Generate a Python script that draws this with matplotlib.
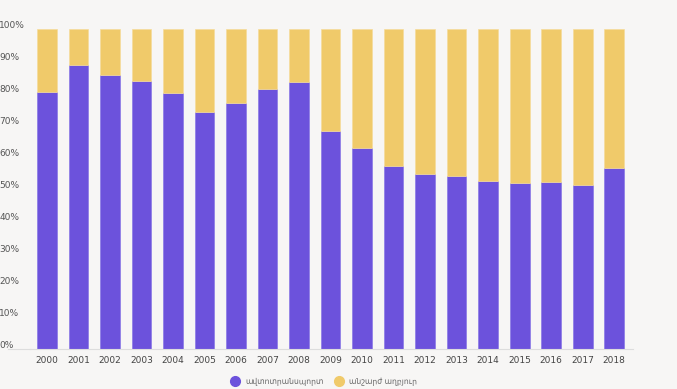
import matplotlib
matplotlib.use('Agg')
import matplotlib.pyplot as plt
import matplotlib.transforms as mtransforms
from matplotlib.lines import Line2D

plt.rcParams['font.family'] = ['DejaVu Sans', 'Noto Sans']

years = [str(y) for y in range(2000, 2019)]
transport = [80.4, 88.75, 85.7, 83.8, 80.1, 74.2, 77.0, 81.25, 83.3, 68.1,
             62.8, 57.3, 54.6, 54.0, 52.5, 52.0, 52.3, 51.25, 56.5]
stationary = [100 - v for v in transport]
labels = ['ավտոտրանսպորտ', 'անշարժ աղբյուր']
colors = ['#6c52dc', '#f0ca6a']

W, H = 677, 389
fig = plt.figure(figsize=(W / 100, H / 100), dpi=100, facecolor='#f7f6f5')
ax = fig.add_axes([30 / W, 1 - 349 / H, 603 / W, 320 / H])
ax.set_facecolor('none')

x = range(len(years))
ax.bar(x, transport, width=0.63, color=colors[0], edgecolor='#8a78e6', linewidth=0.5)
ax.bar(x, stationary, bottom=transport, width=0.63, color=colors[1],
       edgecolor='#f5dc9c', linewidth=0.5)

ax.set_xlim(-0.54, 18.6)
ax.set_ylim(0, 100)
ax.set_xticks(list(x))
ax.set_xticklabels(years, fontsize=6.5, color='#444444')
ax.set_yticks(range(0, 101, 10))
ax.set_yticklabels([f'{v}%' for v in range(0, 101, 10)], fontsize=6.5,
                   color='#555555', ha='left')
ax.tick_params(axis='y', length=0, pad=22)
ax.tick_params(axis='x', length=0, pad=5)
off = mtransforms.ScaledTranslation(0, 5 / 100, fig.dpi_scale_trans)
for lab in ax.get_yticklabels():
    lab.set_transform(lab.get_transform() + off)

for s in ['top', 'right', 'left']:
    ax.spines[s].set_visible(False)
ax.spines['bottom'].set_color('#dddddd')
fig.add_artist(Line2D([8 / W, 30 / W], [1 - 349 / H] * 2, color='#dddddd', lw=0.8))

handles = [Line2D([], [], marker='o', ls='', markersize=7, color=c) for c in colors]
fig.legend(handles, labels, loc='center', bbox_to_anchor=(322 / W, 1 - 381 / H),
           ncol=2, frameon=False, fontsize=5.5, labelcolor='#666666',
           handletextpad=0.3, columnspacing=1.0)

fig.savefig('out.png', dpi=100, facecolor=fig.get_facecolor())
